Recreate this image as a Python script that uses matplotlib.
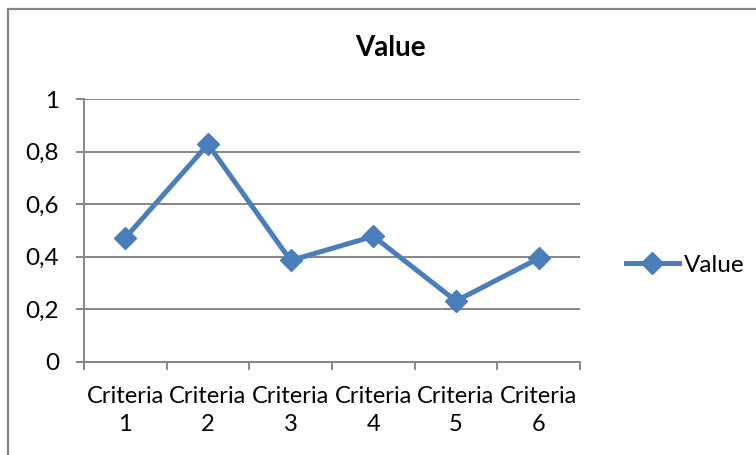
import matplotlib.pyplot as plt
from matplotlib.patches import Rectangle
from matplotlib.ticker import FixedLocator, NullFormatter, FuncFormatter

# data
categories = ["Criteria\n1", "Criteria\n2", "Criteria\n3", "Criteria\n4", "Criteria\n5", "Criteria\n6"]
values = [0.472, 0.828, 0.386, 0.478, 0.232, 0.394]
y_ticks = [0, 0.2, 0.4, 0.6, 0.8, 1]

blue = "#4a7ebb"
gray = "#868686"
plt.rcParams['font.family'] = ['Lato', 'DejaVu Sans']

fig = plt.figure(figsize=(7.56, 4.55), dpi=100)
ax = fig.add_axes([84 / 756, 1 - 362 / 455, 496 / 756, 263 / 455])

# outer chart frame (cut off at right and bottom like the screenshot)
fig.patches.append(Rectangle((8 / 756, -0.1), 1.2, 1 - 9 / 455 + 0.1,
                             transform=fig.transFigure, fill=False,
                             edgecolor=gray, linewidth=1.6))

x = [i + 0.5 for i in range(len(values))]
ax.plot(x, values, color=blue, linewidth=3.6, marker="D", markersize=11,
        label="Value", zorder=3)

ax.set_xlim(0, len(values))
ax.set_ylim(0, 1)
ax.set_yticks(y_ticks)
ax.yaxis.set_major_formatter(FuncFormatter(lambda v, p: f"{v:g}".replace(".", ",")))
ax.grid(axis="y", color=gray, linewidth=1.4)
ax.set_axisbelow(True)

# category ticks sit between the points, labels under the points
ax.xaxis.set_major_locator(FixedLocator(range(len(values) + 1)))
ax.xaxis.set_major_formatter(NullFormatter())
ax.xaxis.set_minor_locator(FixedLocator(x))
ax.set_xticklabels(categories, minor=True)
ax.tick_params(axis="x", which="minor", length=0, pad=17, labelsize=17)
ax.tick_params(axis="x", which="major", length=6, color=gray, width=1.4)
ax.tick_params(axis="y", length=6, color=gray, width=1.4, pad=12, labelsize=17.5)
for lbl in ax.get_xticklabels(minor=True):
    lbl.set_linespacing(1.45)

for side in ["top", "right"]:
    ax.spines[side].set_visible(False)
for side in ["left", "bottom"]:
    ax.spines[side].set_color(gray)
    ax.spines[side].set_linewidth(1.4)

fig.text(390 / 756, 1 - 48 / 455, "Value", ha="center", va="center",
         fontsize=20, fontweight="bold")

fig.legend(loc="center left", bbox_to_anchor=(616 / 756, 1 - 265 / 455),
           frameon=False, fontsize=17.5, handlelength=2.2, handletextpad=0.2,
           borderaxespad=0)

fig.savefig("out.png", dpi=100)
